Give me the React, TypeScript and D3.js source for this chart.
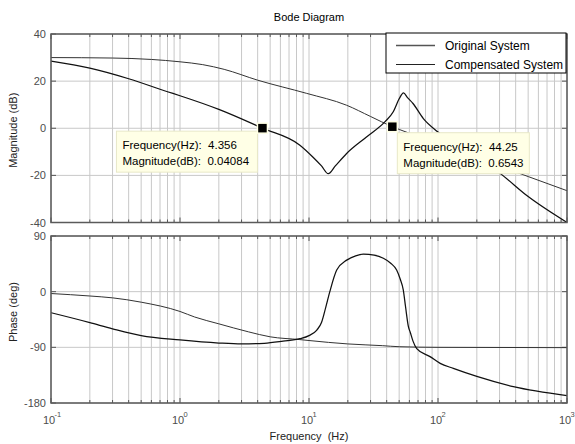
import React from 'react';
import * as d3 from 'd3';

// magnitude, original system (Hz, dB)
const magFreqOrig = [0.1, 0.2, 0.4, 0.8, 1, 2, 4.356, 8.5, 10.7, 12.5, 14.1, 16, 19.5, 27.9, 38.7, 45, 50, 54, 58, 64, 77, 100, 200, 300, 500, 1000];
const magOrig = [28.5, 25.5, 21, 15.5, 13.8, 8, 0.04, -7.2, -12.2, -16, -19.3, -16, -10.8, -3.7, 2.7, 7, 12.5, 15, 13, 10.5, 4.1, -1.6, -12.5, -19, -29, -40];

// magnitude, compensated system
const magFreqComp = [0.1, 0.3, 0.6, 1, 1.5, 2.2, 4, 9.6, 19.5, 30, 44.25, 50, 100, 200, 500, 1000];
const magComp = [30, 29.8, 29.2, 28.2, 27, 25, 20.4, 14.8, 9.8, 5, 0.6543, -0.5, -6.5, -12.5, -20.5, -26.5];

// phase, original system (Hz, deg)
const phFreqOrig = [0.1, 0.2, 0.3, 0.5, 1, 2, 3, 4.5, 6.3, 8.5, 10, 11.5, 12.5, 13.5, 14.5, 16.4, 19.6, 23, 26.4, 32, 37.7, 43, 47.8, 51, 53.8, 56, 58.9, 61, 64, 68.4, 86.7, 104, 131.5, 200, 384, 1000];
const phOrig = [-34, -50, -60, -71, -78, -83, -84.5, -83.5, -80, -76, -71, -62, -50, -25, 0, 35, 51, 58, 60.5, 59, 54, 46, 35, 20, 3, -24, -56, -66, -80, -92, -105, -116, -124, -137, -153.5, -168];

// phase, compensated system
const phFreqComp = [0.1, 0.2, 0.3, 0.5, 1, 1.3, 2, 3.4, 5, 8.5, 10, 20, 37, 50, 100, 1000];
const phComp = [-3, -7, -10, -17, -32, -41, -52, -65, -73, -77.5, -79, -84.5, -87.3, -89, -90, -90.5];

const magTicks = [40, 20, 0, -20, -40];
const phTicks = [90, 0, -90, -180];
const decades = [-1, 0, 1, 2, 3];
const legendLabels = ['Original System', 'Compensated System'];

// data tips: [freq, dB]
const tips = [
  { f: 4.356, v: 0.04084, fl: '4.356', vl: '0.04084' },
  { f: 44.25, v: 0.6543, fl: '44.25', vl: '0.6543' },
];

const FONT = "Arial, 'Liberation Sans', Helvetica, sans-serif";
const W = 575;
const H = 444;
const L = 51;
const R = 567;

const x = d3.scaleLog().domain([0.1, 1000]).range([L, R]);
const yMag = d3.scaleLinear().domain([-40, 40]).range([222.5, 34]);
const yPh = d3.scaleLinear().domain([-180, 90]).range([403, 236]);

const minorTicks: number[] = [];
[-1, 0, 1, 2].forEach((d) => {
  for (let m = 1; m <= 9; m++) minorTicks.push(m * Math.pow(10, d));
});
minorTicks.push(1000);

const zip = (fs: number[], vs: number[]) => fs.map((f, i) => [f, vs[i]] as [number, number]);

function Panel({ y, ticks, id }: { y: d3.ScaleLinear<number, number>; ticks: number[]; id: string }) {
  const [y0, y1] = y.range();
  const top = Math.min(y0, y1);
  const bot = Math.max(y0, y1);
  return (
    <g>
      <rect x={L} y={top} width={R - L} height={bot - top} fill="#fff" />
      {minorTicks.map((t, i) => (
        <line key={'vg' + i} x1={x(t)} x2={x(t)} y1={top} y2={bot} stroke="#c8c8c8" strokeWidth={1} />
      ))}
      {ticks.map((t) => (
        <line key={'hg' + t} x1={L} x2={R} y1={y(t)} y2={y(t)} stroke="#c8c8c8" strokeWidth={1} />
      ))}
      {minorTicks.map((t, i) => {
        const major = Math.abs(Math.log10(t) - Math.round(Math.log10(t))) < 1e-9;
        const len = major ? 5 : 3;
        return (
          <g key={'tk' + i} stroke="#555" strokeWidth={1}>
            <line x1={x(t)} x2={x(t)} y1={bot} y2={bot - len} />
            <line x1={x(t)} x2={x(t)} y1={top} y2={top + len} />
          </g>
        );
      })}
      {ticks.map((t) => (
        <g key={'yt' + t}>
          <line x1={L} x2={L + 5} y1={y(t)} y2={y(t)} stroke="#555" />
          <line x1={R} x2={R - 5} y1={y(t)} y2={y(t)} stroke="#555" />
          <text x={L - 5} y={y(t) + 4} textAnchor="end" fontSize={11} fill="#4d4d4d" fontFamily={FONT}>
            {t}
          </text>
        </g>
      ))}
      <clipPath id={id}>
        <rect x={L} y={top} width={R - L} height={bot - top} />
      </clipPath>
    </g>
  );
}

export default function App() {
  const magLine = d3
    .line<[number, number]>()
    .x((d) => x(d[0]))
    .y((d) => yMag(d[1]))
    .curve(d3.curveMonotoneX);
  const dMagOrig = magLine(zip(magFreqOrig, magOrig)) as string;
  const dMagComp = magLine(zip(magFreqComp, magComp)) as string;
  const phLine = d3
    .line<[number, number]>()
    .x((d) => x(d[0]))
    .y((d) => yPh(d[1]))
    .curve(d3.curveMonotoneX);
  const dPhOrig = phLine(zip(phFreqOrig, phOrig)) as string;
  const dPhComp = phLine(zip(phFreqComp, phComp)) as string;

  const boxes = [
    { dx: -146, dy: 3, w: 141, h: 41 },
    { dx: 5, dy: 6, w: 132, h: 41 },
  ];

  return (
    <svg
      width={W}
      height={H}
      style={{ position: 'absolute', left: 0, top: 0, background: '#fff' }}
      fontFamily={FONT}
    >
      <rect width={W} height={H} fill="#fff" />
      <text x={(L + R) / 2} y={21} textAnchor="middle" fontSize={11} fill="#000">
        Bode Diagram
      </text>

      <Panel y={yMag} ticks={magTicks} id="clipMag" />
      <Panel y={yPh} ticks={phTicks} id="clipPh" />

      <g clipPath="url(#clipMag)" fill="none">
        <path d={dMagComp} stroke="#333" strokeWidth={1} />
        <path d={dMagOrig} stroke="#111" strokeWidth={1.25} />
      </g>
      <g clipPath="url(#clipPh)" fill="none">
        <path d={dPhComp} stroke="#333" strokeWidth={1} />
        <path d={dPhOrig} stroke="#111" strokeWidth={1.25} />
      </g>

      {/* axes boxes */}
      <rect x={L} y={34} width={R - L} height={222.5 - 34} fill="none" stroke="#5a5a5a" strokeWidth={1.5} />
      <rect x={L} y={236} width={R - L} height={403 - 236} fill="none" stroke="#5a5a5a" strokeWidth={1.5} />

      {/* x tick labels */}
      {decades.map((d) => (
        <g key={'xl' + d} fill="#4d4d4d">
          <text x={x(Math.pow(10, d)) - 2} y={424} textAnchor="middle" fontSize={11}>
            10
          </text>
          <text x={x(Math.pow(10, d)) + 3.5} y={417} fontSize={7.5}>
            {d}
          </text>
        </g>
      ))}

      <text
        transform={`translate(17,${yMag(0) + 2}) rotate(-90)`}
        textAnchor="middle"
        fontSize={11}
        fill="#222"
      >
        Magnitude (dB)
      </text>
      <text transform={`translate(17,312) rotate(-90)`} textAnchor="middle" fontSize={11} fill="#222">
        Phase (deg)
      </text>
      <text x={(L + R) / 2} y={440} textAnchor="middle" fontSize={11} fill="#222" style={{ whiteSpace: 'pre' }}>
        {'Frequency  (Hz)'}
      </text>

      {/* legend */}
      <rect x={386} y={33} width={180} height={40} fill="#fff" stroke="#000" strokeWidth={1} />
      {legendLabels.map((lab, i) => (
        <g key={lab}>
          <line
            x1={396}
            x2={435}
            y1={45.5 + i * 19}
            y2={45.5 + i * 19}
            stroke={i === 0 ? '#555' : '#222'}
            strokeWidth={i === 0 ? 1.5 : 1}
          />
          <text x={445} y={49.5 + i * 19} fontSize={12} fill="#000">
            {lab}
          </text>
        </g>
      ))}

      {/* data tips */}
      {tips.map((t, i) => {
        const mx = x(t.f);
        const my = yMag(t.v);
        const b = boxes[i];
        return (
          <g key={'tip' + i}>
            <rect x={mx + b.dx} y={my + b.dy} width={b.w} height={b.h} fill="#ffffe6" stroke="#e8e8c8" />
            <text x={mx + b.dx + 6} y={my + b.dy + 18} fontSize={11.5} fill="#000" style={{ whiteSpace: 'pre' }}>
              {`Frequency(Hz):  ${t.fl}`}
            </text>
            <text x={mx + b.dx + 6} y={my + b.dy + 34} fontSize={11.5} fill="#000" style={{ whiteSpace: 'pre' }}>
              {`Magnitude(dB):  ${t.vl}`}
            </text>
            <rect x={mx - 5} y={my - 5} width={10} height={10} fill="#000" stroke="#ffffe6" strokeWidth={1.5} />
          </g>
        );
      })}
    </svg>
  );
}
